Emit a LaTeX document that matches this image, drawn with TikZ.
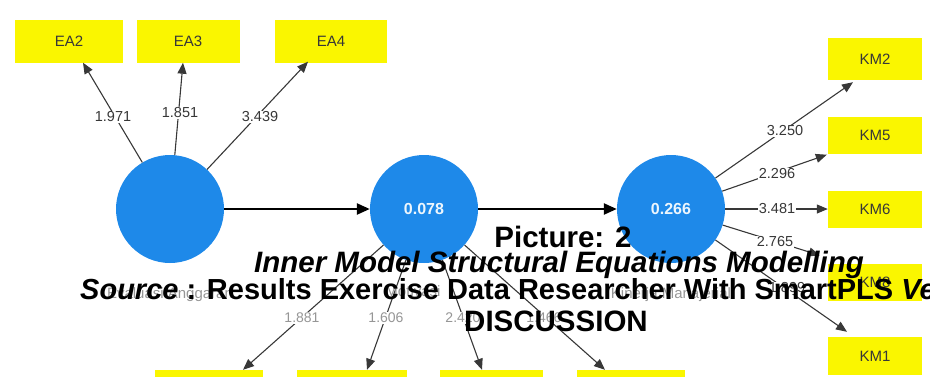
\documentclass[tikz,border=0pt]{standalone}
\usepackage{fontspec}
\setmainfont{Liberation Sans}
\usetikzlibrary{arrows.meta,calc}
\definecolor{boxyellow}{RGB}{250,246,0}
\definecolor{lvblue}{RGB}{30,137,233}
\definecolor{lbl}{RGB}{55,55,55}
\definecolor{faint}{RGB}{150,150,150}
\begin{document}
\begin{tikzpicture}[x=1pt,y=-1pt,
  ind/.style={fill=boxyellow, text=lbl, inner sep=0pt, font=\fontsize{15}{16}\selectfont},
  lv/.style={circle, fill=lvblue, minimum size=108pt, inner sep=0pt, text=white!92!lvblue, font=\fontsize{16}{17}\selectfont\bfseries},
  innerpath/.style={draw=black, line width=2.4pt, -{Triangle[length=13pt,width=11pt]}},
  loadpath/.style={draw=black!78, line width=1.1pt, -{Triangle[length=11pt,width=9pt]}},
  wlab/.style={fill=white, inner sep=1pt, text=lbl, font=\fontsize{14.5}{15}\selectfont},
  glab/.style={fill=white, inner sep=1pt, text=faint, font=\fontsize{14}{15}\selectfont},
  cname/.style={text=faint, inner sep=0pt, font=\fontsize{15}{16}\selectfont},
  captxt/.style={inner sep=0pt, anchor=base, font=\fontsize{29.5}{30}\selectfont\bfseries}
]
\useasboundingbox (0,0) rectangle (930,376);
\clip (0,0) rectangle (930,376);

% indicator boxes
\node[ind, minimum width=108pt, minimum height=43pt] (ea2) at (69,41) {EA2};
\node[ind, minimum width=103pt, minimum height=43pt] (ea3) at (188,41) {EA3};
\node[ind, minimum width=112pt, minimum height=43pt] (ea4) at (331,41) {EA4};
\node[ind, minimum width=94pt, minimum height=42pt] (km2) at (875,59) {KM2};
\node[ind, minimum width=94pt, minimum height=37pt] (km5) at (875,135) {KM5};
\node[ind, minimum width=94pt, minimum height=37pt] (km6) at (875,209) {KM6};
\node[ind, minimum width=94pt, minimum height=37pt] (km8) at (875,282) {KM8};
\node[ind, minimum width=94pt, minimum height=38pt] (km1) at (875,356) {KM1};
\node[ind, minimum width=108pt, minimum height=44pt] (b1) at (209,392) {};
\node[ind, minimum width=110pt, minimum height=44pt] (b2) at (352,392) {};
\node[ind, minimum width=103pt, minimum height=44pt] (b3) at (491,392) {};
\node[ind, minimum width=108pt, minimum height=44pt] (b4) at (631,392) {};

% latent variables
\node[lv] (c1) at (170,209) {};
\node[lv] (c2) at (424,209) {0.078};
\node[lv] (c3) at (671,209) {0.266};

% inner paths
\draw[innerpath] (c1) -- (c2);
\draw[innerpath] (c2) -- (c3);

% outer loadings
\draw[loadpath] (c1) -- ([xshift=14pt]ea2.south);
\draw[loadpath] (c1) -- ([xshift=-5pt]ea3.south);
\draw[loadpath] (c1) -- ([xshift=-23pt,yshift=1pt]ea4.south);
\draw[loadpath] (c3) -- ([xshift=-22pt,yshift=-2pt]km2.south);
\draw[loadpath] (c3) -- ([xshift=-1pt,yshift=-1pt]km5.south west);
\draw[loadpath] (c3) -- (km6.west);
\draw[loadpath] (c3) -- ([xshift=-8pt,yshift=8pt]km8.north west);
\draw[loadpath] (c3) -- ([xshift=-28pt,yshift=5pt]km1.north);
\draw[loadpath] (c2) -- ([xshift=34pt]b1.north);
\draw[loadpath] (c2) -- ([xshift=15pt]b2.north);
\draw[loadpath] (c2) -- ([xshift=-9pt]b3.north);
\draw[loadpath] (c2) -- ([xshift=-26pt]b4.north);

% loading labels
\node[wlab] (l1) at (113,117) {1.971};
\node[wlab] (l2) at (180,113) {1.851};
\node[wlab] (l3) at (260,117) {3.439};
\node[wlab] (l4) at (785,131) {3.250};
\node[wlab] (l5) at (777,174) {2.296};
\node[wlab] (l6) at (777,209) {3.481};
\node[wlab] (l7) at (775,242) {2.765};
\node[wlab] (l8) at (787,288) {1.899};
\node[glab] (l9) at (302,318) {1.881};
\node[glab] (l10) at (386,318) {1.606};
\node[glab] (l11) at (463,318) {2.420};
\node[glab] (l12) at (544,318) {1.466};

% construct names
\node[cname] (n1) at (170,295) {Evaluasi Anggaran};
\node[cname] (n2) at (413,291) {Motivasi};
\node[cname] (n3) at (671,295) {Kinerja Manajerial};

% caption overlay
\node[captxt] (t1) at (563,247) {Picture: 2};
\node[captxt] (t2) at (559,272) {\itshape Inner Model Structural Equations Modelling};
\node[captxt, anchor=base west, font=\fontsize{29}{30}\selectfont\bfseries] (t3) at (80,299) {\itshape Source\upshape{} : Results Exercise Data Researcher With SmartPLS \itshape Ve};
\node[captxt] (t4) at (556,331) {DISCUSSION};
\end{tikzpicture}
\end{document}
